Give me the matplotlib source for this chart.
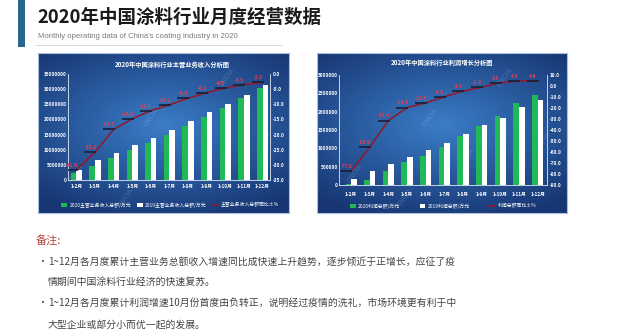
import numpy as np
import matplotlib
matplotlib.use("Agg")
import matplotlib.pyplot as plt
from matplotlib.patches import Rectangle, Patch
from matplotlib.lines import Line2D

plt.rcParams['font.family'] = ['Noto Sans CJK SC', 'DejaVu Sans']

# ---------------- data ----------------
months = ['1-2月', '1-3月', '1-4月', '1-5月', '1-6月', '1-7月',
          '1-8月', '1-9月', '1-10月', '1-11月', '1-12月']

rev_2020 = [2400000, 4700000, 7300000, 9800000, 12300000, 15000000,
            17800000, 20800000, 23800000, 27200000, 30500000]
rev_2019 = [3400000, 6500000, 8900000, 11400000, 14000000, 16600000,
            19400000, 22300000, 25000000, 28100000, 31400000]
rev_yoy = [-31.6, -25.8, -18.3, -14.8, -12.1, -10.2, -8.0, -6.2, -4.6, -3.5, -2.8]

profit_2020 = [30000, 150000, 390000, 620000, 800000, 1050000,
               1330000, 1620000, 1880000, 2230000, 2450000]
profit_2019 = [160000, 380000, 580000, 760000, 960000, 1150000,
               1400000, 1650000, 1830000, 2130000, 2320000]
profit_yoy = [-77.2, -55.6, -31.4, -19.6, -15.4, -9.8, -4.7, -1.2, 3.0, 4.5, 4.6]

notes = [
    "1~12月各月度累计主营业务总额收入增速同比成快速上升趋势，逐步倾近于正增长，应征了疫",
    "情期间中国涂料行业经济的快速复苏。",
    "1~12月各月度累计利润增速10月份首度由负转正，说明经过疫情的洗礼，市场环境更有利于中",
    "大型企业或部分小而优一起的发展。",
]

W, H = 640, 336
fig = plt.figure(figsize=(6.4, 3.36), dpi=100)
fig.patch.set_facecolor('white')


def box(x0, y0, x1, y1):
    # pixel box (top-left origin) -> figure fraction
    return [x0 / W, 1 - y1 / H, (x1 - x0) / W, (y1 - y0) / H]


def fx(x):
    return x / W


def fy(y):
    return 1 - y / H


def panel_bg(x0, y0, x1, y1):
    ax = fig.add_axes(box(x0, y0, x1, y1))
    yy, xx = np.mgrid[-1:1:160j, -1:1:260j]
    r = np.sqrt((xx * 0.85) ** 2 + ((yy + 0.1) * 1.0) ** 2)
    t = np.clip(r / 1.25, 0, 1)[..., None]
    c_mid = np.array([0.23, 0.49, 0.78])
    c_edge = np.array([0.09, 0.21, 0.45])
    img = c_mid * (1 - t) + c_edge * t
    ax.imshow(img, aspect='auto', extent=[0, 1, 0, 1])
    ax.set_xticks([])
    ax.set_yticks([])
    for s in ax.spines.values():
        s.set_color('#a9c0de')
        s.set_linewidth(0.8)
    # faint watermark
    for (wx, wy) in [(0.15, 0.25), (0.45, 0.6), (0.75, 0.85), (0.6, 0.35), (0.9, 0.45), (0.35, 0.1)]:
        ax.text(wx, wy, 'CNCIA', color='white', alpha=0.12, fontsize=5,
                rotation=55, ha='center', va='center', fontweight='bold')
    return ax


def chart(ax_px, b20, b19, yoy, ylim, ystep, y2lim, y2step, xlim,
          title, title_xy, labels, leg_xy, xpad):
    ax = fig.add_axes(box(*ax_px))
    ax.patch.set_visible(False)
    x = np.arange(len(months))
    w = 0.3
    ax.bar(x - w / 2, b20, w, color='#1fb955', zorder=2)
    ax.bar(x + w / 2, b19, w, color='white', zorder=2)
    ax.set_xlim(*xlim)
    ax.set_ylim(*ylim)
    ax.set_yticks(np.arange(ylim[0], ylim[1] + 1, ystep))
    ax.set_yticklabels([str(int(v)) for v in np.arange(ylim[0], ylim[1] + 1, ystep)])
    ax.set_xticks(x)
    ax.set_xticklabels(months)
    ax.tick_params(axis='both', length=0, colors='white', labelsize=3.4)
    ax.tick_params(axis='x', pad=xpad)
    ax.tick_params(axis='y', pad=1)
    for lab in ax.get_xticklabels() + ax.get_yticklabels():
        lab.set_fontweight('bold')
    ax.spines['top'].set_visible(False)
    for s in ['left', 'bottom', 'right']:
        ax.spines[s].set_color('#dfe8f5')
        ax.spines[s].set_linewidth(0.6)

    ax2 = ax.twinx()
    ax2.set_ylim(*y2lim)
    ticks2 = np.arange(y2lim[0], y2lim[1] + 0.1, y2step)
    ax2.set_yticks(ticks2)
    ax2.set_yticklabels(['%.1f' % v for v in ticks2])
    ax2.tick_params(axis='y', length=0, colors='white', labelsize=3.4, pad=2)
    for lab in ax2.get_yticklabels():
        lab.set_fontweight('bold')
    for s in ax2.spines.values():
        s.set_visible(False)
    ax2.plot(x, yoy, color='#8e1b2e', lw=1.2, zorder=3)
    ax2.plot(x - 0.25, yoy, ls='none', marker='_', ms=9, mew=1.2, color='#15203a', zorder=4)
    for i, v in enumerate(yoy):
        ax2.annotate('%.1f' % v, (x[i] - 0.25, v), xytext=(0, 1.5), textcoords='offset points',
                     ha='center', va='bottom', fontsize=3.5, color='#ef3b4f', fontweight='bold')

    fig.text(fx(title_xy[0]), fy(title_xy[1]), title, color='white', fontsize=4.5,
             fontweight='bold', ha='center', va='center')

    handles = [Patch(facecolor='#1fb955'), Patch(facecolor='white'),
               Line2D([0], [0], color='#8e1b2e', lw=1.2)]
    leg = ax.legend(handles, labels, loc='center', bbox_to_anchor=(fx(leg_xy[0]), fy(leg_xy[1])),
                    bbox_transform=fig.transFigure, ncol=3, frameon=False, fontsize=3.5,
                    columnspacing=leg_xy[2], handlelength=1.2, handleheight=0.9, handletextpad=0.5)
    for t in leg.get_texts():
        t.set_color('white')
    return ax, ax2


# ---------------- header ----------------
fig.patches.append(Rectangle((fx(18), fy(47)), fx(7), 47 / H, transform=fig.transFigure,
                             facecolor='#2a6590', edgecolor='none'))
fig.text(fx(37), fy(17), '2020年中国涂料行业月度经营数据', fontsize=13.3,
         fontweight='bold', color='#1a1a1a', ha='left', va='center')
fig.text(fx(38), fy(36), "Monthly operating data of China's coating industry in 2020",
         fontsize=5.6, color='#7a7a7a', ha='left', va='center', family='Liberation Sans')
fig.add_artist(Line2D([fx(36), fx(282)], [fy(45), fy(45)], color='#d8d8d8', lw=0.7,
                      transform=fig.transFigure))

# ---------------- left panel: revenue ----------------
panel_bg(38, 53, 289, 213)
chart((68, 74, 270, 180), rev_2020, rev_2019, rev_yoy,
      (0, 35000000), 5000000, (-35, 0), 5, (-0.45, 10.4),
      '2020年中国涂料行业主营业务收入分析图', (172, 64),
      ['2020主营业务收入总额/万元', '2019主营业务收入总额/万元', '主营业务收入总额同比±%'],
      (170, 205, 1.2), 3)

# ---------------- right panel: profit ----------------
panel_bg(317, 53, 567, 213)
chart((339, 75, 547, 185), profit_2020, profit_2019, profit_yoy,
      (0, 3000000), 500000, (-90, 10), 10, (-0.65, 10.5),
      '2020年中国涂料行业利润增长分析图', (442, 63),
      ['2020利润总额/万元', '2019利润总额/万元', '利润总额同比±%'],
      (443, 206, 4.0), 5)

# ---------------- notes ----------------
fig.text(fx(36), fy(240), '备注:', fontsize=8, color='#b5453a', ha='left', va='center')
ys = [262, 282, 303, 325]
for i, (line, y) in enumerate(zip(notes, ys)):
    if i in (0, 2):
        fig.text(fx(37), fy(y), '•', fontsize=7, color='#444444', ha='left', va='center')
    fig.text(fx(48), fy(y), line, fontsize=7.1, color='#444444', ha='left', va='center')

fig.savefig('out.png', dpi=100)
